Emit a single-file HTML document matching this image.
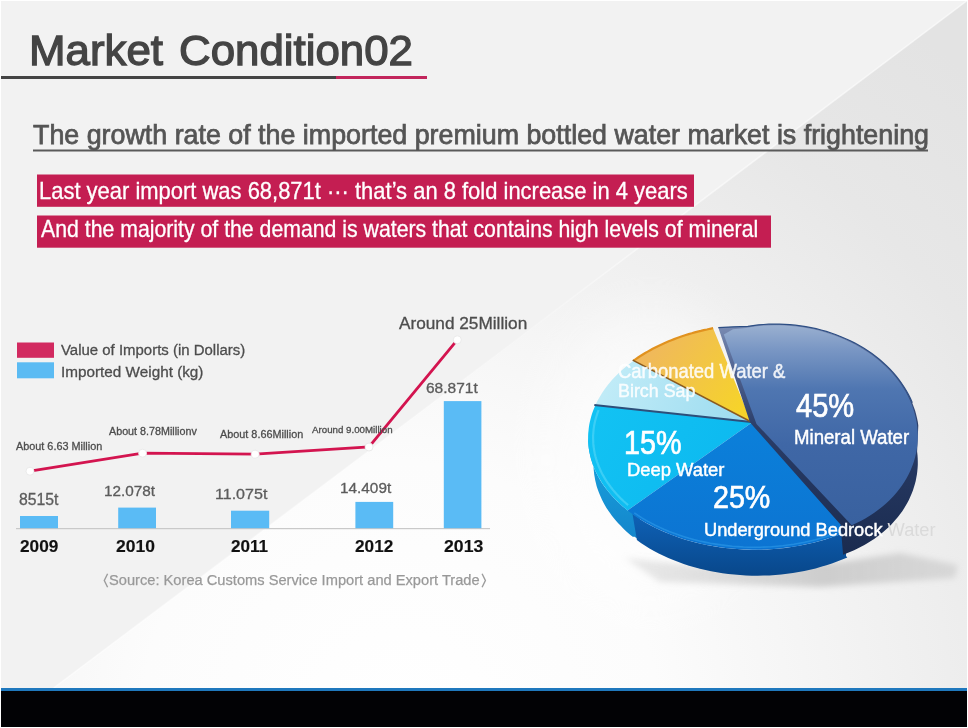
<!DOCTYPE html>
<html><head><meta charset="utf-8">
<style>
html,body{margin:0;padding:0;}
body{width:968px;height:728px;position:relative;overflow:hidden;background:#ffffff;font-family:"Liberation Sans",sans-serif;}
.abs{position:absolute;}
.t{position:absolute;white-space:nowrap;transform-origin:0 0;font-family:"Liberation Sans",sans-serif;}
</style></head>
<body>
<svg class="abs" style="left:0;top:0" width="968" height="728" viewBox="0 0 968 728">
  <defs>
    <radialGradient id="bgr" gradientUnits="userSpaceOnUse" cx="400" cy="720" r="860">
      <stop offset="0" stop-color="#ffffff"/>
      <stop offset="0.3" stop-color="#fcfcfc"/>
      <stop offset="0.45" stop-color="#f6f6f6"/>
      <stop offset="0.64" stop-color="#eeeeee"/>
      <stop offset="0.8" stop-color="#e7e7e7"/>
      <stop offset="1" stop-color="#e3e3e3"/>
    </radialGradient>
    <linearGradient id="diagL" gradientUnits="userSpaceOnUse" x1="966" y1="1" x2="54" y2="688">
      <stop offset="0" stop-color="#ffffff" stop-opacity="0.6"/>
      <stop offset="0.35" stop-color="#ffffff" stop-opacity="0.5"/>
      <stop offset="0.5" stop-color="#ffffff" stop-opacity="0.1"/>
      <stop offset="0.65" stop-color="#ffffff" stop-opacity="0.3"/>
      <stop offset="1" stop-color="#ffffff" stop-opacity="0.6"/>
    </linearGradient>
    <filter id="glow" x="-50%" y="-50%" width="200%" height="200%"><feGaussianBlur stdDeviation="25"/></filter>
  </defs>
  <rect x="1" y="1" width="966" height="688" fill="#f2f2f2"/>
  <!-- lower-right triangle: line x = 960 - 1.325*(y-5) -->
  <polygon points="966.6,1 967,1 967,688 53.7,688" fill="url(#bgr)"/>
  <line x1="966.6" y1="1" x2="53.7" y2="688" stroke="url(#diagL)" stroke-width="1.5"/>
  <ellipse cx="650" cy="460" rx="110" ry="150" fill="#ffffff" opacity="0.5" filter="url(#glow)"/>
  <!-- bottom bar -->
  <rect x="1" y="688" width="966" height="3" fill="#1f78bd"/>
  <rect x="1" y="691" width="966" height="36" fill="#020205"/>
  <!-- title underline -->
  <rect x="1" y="76" width="335" height="3" fill="#444444"/>
  <rect x="336" y="76" width="91" height="3" fill="#c2255c"/>
  <!-- subtitle underline -->
  <rect x="33" y="149.5" width="895" height="2" fill="#5a5a5a"/>
  <!-- pink bars -->
  <rect x="37" y="174.5" width="657" height="32.3" fill="#c41e52"/>
  <rect x="37" y="215.5" width="734" height="32.2" fill="#c41e52"/>
  <!-- legend -->
  <rect x="17" y="342.5" width="37" height="15.3" fill="#d22a60"/>
  <rect x="17" y="362.3" width="37" height="16" fill="#5bbbf3"/>
  <!-- axis -->
  <rect x="16" y="528" width="474" height="1.2" fill="#c9c9c9"/>
  <!-- bars -->
  <rect x="20" y="516" width="38" height="12.2" fill="#5abbf5"/>
  <rect x="118.2" y="507.6" width="37.8" height="20.6" fill="#5abbf5"/>
  <rect x="231" y="510.7" width="38.2" height="17.5" fill="#5abbf5"/>
  <rect x="355.4" y="501.9" width="37.8" height="26.3" fill="#5abbf5"/>
  <rect x="443.8" y="401.1" width="37.6" height="127.1" fill="#5abbf5"/>
  <!-- line -->
  <polyline points="30,471.2 142.6,453.2 255.2,454.2 369,447 457.3,339.8" fill="none" stroke="#d3144f" stroke-width="2.8"/>
  <g fill="#ffffff" stroke="#e6e6e6" stroke-width="0.8">
    <circle cx="30" cy="471.2" r="4"/>
    <circle cx="142.6" cy="453.2" r="4"/>
    <circle cx="255.2" cy="454.2" r="4"/>
    <circle cx="369" cy="447" r="4"/>
    <circle cx="457.3" cy="339.8" r="4"/>
  </g>
  <polyline points="107.6,573.8 104.3,580.5 107.6,587.2" fill="none" stroke="#9c9c9c" stroke-width="1.4"/>
  <polyline points="482.1,573.8 485.4,580.5 482.1,587.2" fill="none" stroke="#9c9c9c" stroke-width="1.4"/>
  <defs>
  <filter id="blur4" x="-20%" y="-100%" width="140%" height="300%"><feGaussianBlur stdDeviation="3"/></filter>
  <linearGradient id="gMin" gradientUnits="userSpaceOnUse" x1="0" y1="325" x2="0" y2="525">
    <stop offset="0" stop-color="#9ab0d0"/>
    <stop offset="0.12" stop-color="#7a97c4"/>
    <stop offset="0.32" stop-color="#4f76b1"/>
    <stop offset="0.6" stop-color="#3f67a6"/>
    <stop offset="1" stop-color="#39619f"/>
  </linearGradient>
  <linearGradient id="gMinSide" gradientUnits="userSpaceOnUse" x1="0" y1="325" x2="0" y2="555">
    <stop offset="0" stop-color="#7a8cb3"/>
    <stop offset="0.2" stop-color="#4f6290"/>
    <stop offset="0.45" stop-color="#2a3d68"/>
    <stop offset="1" stop-color="#1a2b4f"/>
  </linearGradient>
  <linearGradient id="gOr" gradientUnits="userSpaceOnUse" x1="640" y1="335" x2="740" y2="410">
    <stop offset="0" stop-color="#efb463"/>
    <stop offset="0.5" stop-color="#f2c447"/>
    <stop offset="1" stop-color="#f6d32a"/>
  </linearGradient>
  <linearGradient id="gCy" gradientUnits="userSpaceOnUse" x1="600" y1="360" x2="740" y2="420">
    <stop offset="0" stop-color="#c4edf8"/>
    <stop offset="1" stop-color="#9ddcf0"/>
  </linearGradient>
  <linearGradient id="gDeep" gradientUnits="userSpaceOnUse" x1="600" y1="410" x2="740" y2="500">
    <stop offset="0" stop-color="#12c2f3"/>
    <stop offset="1" stop-color="#0cb8ef"/>
  </linearGradient>
  <linearGradient id="gDeepSide" gradientUnits="userSpaceOnUse" x1="0" y1="440" x2="0" y2="540">
    <stop offset="0" stop-color="#19a6e0"/>
    <stop offset="1" stop-color="#1485cb"/>
  </linearGradient>
  <linearGradient id="gUnd" gradientUnits="userSpaceOnUse" x1="0" y1="425" x2="0" y2="550">
    <stop offset="0" stop-color="#0b80da"/>
    <stop offset="1" stop-color="#0c74d2"/>
  </linearGradient>
  <linearGradient id="gShad" gradientUnits="userSpaceOnUse" x1="620" y1="0" x2="960" y2="0">
    <stop offset="0" stop-color="#b0b0b0" stop-opacity="0.25"/>
    <stop offset="0.6" stop-color="#a8a8a8" stop-opacity="0.5"/>
    <stop offset="1" stop-color="#b0b0b0" stop-opacity="0.35"/>
  </linearGradient>
  <linearGradient id="gUndSide" gradientUnits="userSpaceOnUse" x1="0" y1="520" x2="0" y2="578">
    <stop offset="0" stop-color="#0e5fb2"/>
    <stop offset="1" stop-color="#084689"/>
  </linearGradient>
</defs>
<path d="M625,558 L700,566 L840,562 L900,553 L958,565 L955,578 L820,587 L660,582 Z" fill="url(#gShad)" filter="url(#blur4)"/>
<path d="M588.1,437.5 L588.1,440.3 L588.3,443.0 L588.5,445.7 L588.8,448.5 L589.2,451.2 L589.8,453.9 L590.4,456.7 L591.1,459.4 L592.0,462.1 L592.9,464.7 L593.9,467.4 L595.0,470.0 L596.2,472.7 L597.5,475.3 L598.9,477.8 L600.4,480.4 L602.0,482.9 L603.7,485.4 L605.5,487.9 L607.4,490.3 L609.3,492.7 L611.3,495.1 L613.5,497.4 L615.7,499.7 L618.0,502.0 L620.4,504.2 L622.8,506.4 L625.4,508.6 L628.0,510.7 L640.0,512.0 L640.0,540.0 L634.0,536.6 L633.1,537.1 L630.4,534.9 L627.8,532.7 L625.3,530.4 L622.8,528.0 L620.5,525.6 L618.2,523.2 L616.0,520.7 L613.9,518.2 L611.9,515.7 L610.0,513.1 L608.2,510.5 L606.5,507.9 L604.9,505.2 L603.4,502.5 L602.0,499.8 L600.8,497.1 L599.6,494.3 L598.5,491.5 L597.5,488.7 L596.6,485.9 L595.9,483.0 L595.2,480.2 L594.7,477.3 L594.2,474.4 L593.9,471.6 L593.6,468.7 L593.5,465.8 L593.5,462.9 L593.6,460.0 Z" fill="url(#gDeepSide)"/>
<path d="M632.5,514.1 L636.6,517.0 L640.9,519.7 L645.4,522.4 L650.0,525.0 L654.7,527.5 L659.5,529.8 L664.5,532.0 L669.6,534.1 L674.8,536.1 L680.1,538.0 L685.5,539.7 L691.0,541.3 L696.6,542.7 L702.2,544.1 L708.0,545.2 L713.7,546.3 L719.6,547.2 L725.5,548.0 L731.4,548.6 L737.4,549.1 L743.3,549.5 L749.3,549.7 L755.4,549.7 L761.4,549.6 L767.4,549.4 L773.4,549.0 L779.3,548.5 L785.3,547.9 L791.2,547.1 L797.0,546.1 L802.8,545.0 L808.6,543.8 L814.3,542.5 L819.9,541.0 L825.4,539.4 L830.9,537.6 L836.2,535.8 L841.5,533.8 L846.6,531.6 L846.0,556.0 L847.3,557.4 L842.3,559.5 L837.1,561.5 L831.9,563.4 L826.5,565.2 L821.1,566.8 L815.6,568.4 L810.0,569.7 L804.4,571.0 L798.7,572.0 L792.9,573.0 L787.1,573.8 L781.3,574.5 L775.4,575.0 L769.5,575.4 L763.6,575.6 L757.7,575.7 L751.8,575.7 L745.9,575.5 L740.0,575.1 L734.1,574.6 L728.3,574.0 L722.5,573.2 L716.8,572.3 L711.1,571.3 L705.5,570.1 L699.9,568.8 L694.4,567.3 L689.0,565.7 L683.7,564.0 L678.5,562.1 L673.3,560.1 L668.3,558.0 L663.5,555.8 L658.7,553.4 L654.0,550.9 L649.5,548.4 L645.2,545.7 L640.9,542.9 L636.9,540.0 Z" fill="url(#gUndSide)"/>
<path d="M751.3,422.0 L595.4,405.2 L594.2,408.0 L593.1,410.8 L592.1,413.6 L591.2,416.4 L590.5,419.2 L589.8,422.1 L589.2,424.9 L588.8,427.8 L588.5,430.7 L588.2,433.6 L588.1,436.4 L588.1,439.3 L588.2,442.2 L588.4,445.0 L588.7,447.9 L589.2,450.8 L589.7,453.6 L590.4,456.5 L591.1,459.3 L592.0,462.1 L592.9,464.9 L594.0,467.7 L595.2,470.4 L596.5,473.2 L597.9,475.9 L599.4,478.6 L601.0,481.2 L602.7,483.9 L604.5,486.5 L606.4,489.0 L608.3,491.6 L610.4,494.1 L612.6,496.5 L614.9,498.9 L617.3,501.3 L619.7,503.7 L622.3,506.0 L624.9,508.2 L627.6,510.4 L750.2,423.7 L757.0,423.0 Z" fill="url(#gDeep)"/>
<path d="M598.6,410.1 L597.6,412.6 L596.8,415.1 L596.0,417.7 L595.3,420.2 L594.7,422.8 L594.2,425.3 L593.8,427.9 L593.5,430.5 L593.3,433.1 L593.1,435.7 L593.1,438.2 L593.2,440.8 L593.3,443.4 L593.5,446.0 L593.9,448.6 L594.3,451.1 L594.8,453.7 L595.4,456.2 L596.1,458.8 L596.9,461.3 L597.8,463.8 L598.7,466.3 L599.8,468.8 L600.9,471.2 L602.1,473.7 L603.5,476.1 L604.9,478.5 L606.3,480.9 L607.9,483.2 L609.6,485.5 L611.3,487.8 L613.1,490.1 L615.0,492.3 L617.0,494.6 L619.1,496.7 L621.2,498.9 L623.4,501.0 L625.7,503.0 L628.1,505.1" fill="none" stroke="#5cd8f8" stroke-width="2.2" opacity="0.55"/>
<path d="M757.0,423.0 L750.2,423.7 L627.6,510.4 L631.7,513.5 L636.0,516.5 L640.4,519.4 L644.9,522.2 L649.7,524.8 L654.5,527.4 L659.5,529.8 L664.7,532.1 L669.9,534.2 L675.3,536.3 L680.8,538.2 L686.4,539.9 L692.0,541.6 L697.8,543.0 L703.7,544.4 L709.6,545.6 L715.6,546.6 L721.6,547.5 L727.7,548.2 L733.8,548.8 L740.0,549.3 L746.2,549.6 L752.3,549.7 L758.5,549.7 L764.7,549.5 L770.9,549.2 L777.1,548.7 L783.2,548.1 L789.3,547.3 L795.4,546.4 L801.4,545.3 L807.3,544.1 L813.2,542.7 L819.0,541.2 L824.7,539.6 L830.4,537.8 L835.9,535.9 L841.3,533.8 L846.6,531.6 L850.0,520.0 L800.0,455.0 Z" fill="url(#gUnd)"/>
<path d="M634.3,512.8 L638.2,515.5 L642.3,518.1 L646.5,520.6 L650.8,522.9 L655.2,525.2 L659.8,527.4 L664.4,529.5 L669.2,531.5 L674.1,533.3 L679.0,535.1 L684.0,536.7 L689.2,538.3 L694.4,539.7 L699.6,541.0 L704.9,542.1 L710.3,543.2 L715.8,544.1 L721.2,544.9 L726.8,545.6 L732.3,546.2 L737.9,546.6 L743.5,547.0 L749.1,547.2 L754.7,547.2 L760.4,547.2 L766.0,547.0 L771.6,546.7 L777.2,546.2 L782.8,545.7 L788.3,545.0 L793.8,544.2 L799.3,543.2 L804.7,542.2 L810.1,541.0 L815.4,539.7 L820.6,538.3 L825.8,536.8 L830.9,535.1 L835.9,533.4" fill="none" stroke="#2a95e6" stroke-width="1.6" opacity="0.7"/>
<path d="M751.3,422.0 L633.6,360.7 L630.9,362.7 L628.2,364.8 L625.6,366.9 L623.1,369.0 L620.7,371.2 L618.3,373.4 L616.0,375.7 L613.8,378.0 L611.7,380.3 L609.7,382.7 L607.8,385.1 L605.9,387.5 L604.1,390.0 L602.4,392.4 L600.9,395.0 L599.4,397.5 L597.9,400.0 L596.6,402.6 L595.4,405.2 Z" fill="url(#gCy)"/>
<path d="M751.3,422.0 L713.1,328.2 L710.0,328.8 L706.9,329.5 L703.8,330.1 L700.8,330.9 L697.7,331.6 L694.7,332.4 L691.7,333.3 L688.7,334.1 L685.8,335.0 L682.8,336.0 L679.9,337.0 L677.1,338.0 L674.2,339.1 L671.4,340.2 L668.7,341.3 L665.9,342.5 L663.2,343.7 L660.5,344.9 L657.9,346.2 L655.3,347.5 L652.7,348.8 L650.2,350.2 L647.7,351.6 L645.2,353.0 L642.8,354.5 L640.4,356.0 L638.1,357.5 L635.8,359.1 L633.6,360.7 Z" fill="url(#gOr)"/>
<path d="M713.1,328.2 L710.0,328.8 L706.9,329.5 L703.8,330.1 L700.8,330.9 L697.7,331.6 L694.7,332.4 L691.7,333.3 L688.7,334.1 L685.8,335.0 L682.8,336.0 L679.9,337.0 L677.1,338.0 L674.2,339.1 L671.4,340.2 L668.7,341.3 L665.9,342.5 L663.2,343.7 L660.5,344.9 L657.9,346.2 L655.3,347.5 L652.7,348.8 L650.2,350.2 L647.7,351.6 L645.2,353.0 L642.8,354.5 L640.4,356.0 L638.1,357.5 L635.8,359.1 L633.6,360.7" fill="none" stroke="#e1921f" stroke-width="2.2"/>
<path d="M594.3,405.0 L751.3,422.0" stroke="#2d4f7a" stroke-width="2"/>
<path d="M632.7,360.1 L751.3,422.0" stroke="#8a5a20" stroke-width="1.6"/>
<path d="M750.0,422.5 L718.3,327.6 L733.0,326.8 L747.9,326.3 L752.6,325.6 L757.4,325.0 L762.1,324.6 L766.9,324.3 L771.7,324.1 L776.5,324.1 L781.3,324.1 L786.1,324.4 L790.9,324.7 L795.7,325.2 L800.5,325.8 L805.3,326.5 L810.0,327.4 L814.7,328.4 L819.4,329.5 L824.0,330.8 L828.5,332.2 L833.0,333.7 L837.5,335.3 L841.8,337.0 L846.1,338.9 L850.4,340.8 L854.5,342.9 L858.5,345.1 L862.5,347.4 L866.3,349.8 L870.1,352.3 L873.7,354.9 L877.2,357.6 L880.6,360.4 L883.9,363.3 L887.0,366.2 L890.1,369.3 L893.0,372.4 L895.7,375.6 L898.3,378.8 L900.8,382.1 L903.1,385.5 L905.3,389.0 L907.3,392.5 L909.2,396.0 L910.9,399.6 L912.4,403.2 L913.8,406.9 L915.1,410.6 L916.1,414.3 L917.0,418.0 L917.8,421.8 L918.3,425.5 L917.1,451.6 L917.5,454.9 L917.7,458.1 L917.8,461.4 L917.8,464.7 L917.6,468.0 L917.3,471.2 L916.9,474.5 L916.3,477.7 L915.7,480.9 L914.9,484.1 L913.9,487.3 L912.9,490.4 L911.7,493.6 L910.4,496.6 L909.0,499.7 L907.4,502.7 L905.8,505.6 L904.0,508.5 L902.1,511.4 L900.0,514.2 L897.9,516.9 L895.7,519.6 L893.3,522.3 L890.9,524.9 L888.3,527.4 L885.7,529.8 L882.9,532.2 L880.0,534.5 L877.1,536.8 L874.1,538.9 L870.9,541.0 L867.7,543.0 L864.4,544.9 L861.0,546.8 L857.6,548.5 L854.1,550.2 L850.5,551.8 L846.8,553.3 L843.1,554.7 L840.5,524.6 Z" fill="url(#gMinSide)"/>
<path d="M756.5,424.0 L723.8,334.5 L733.0,329.2 L746.0,327.9 L751.4,327.0 L757.0,326.3 L762.6,325.8 L768.2,325.4 L773.8,325.3 L779.5,325.3 L785.1,325.5 L790.8,325.9 L796.4,326.5 L802.0,327.2 L807.6,328.2 L813.1,329.3 L818.6,330.6 L824.0,332.0 L829.3,333.7 L834.6,335.5 L839.8,337.5 L844.8,339.6 L849.8,341.9 L854.6,344.3 L859.3,346.9 L863.9,349.7 L868.3,352.6 L872.6,355.6 L876.7,358.8 L880.7,362.0 L884.5,365.4 L888.1,369.0 L891.6,372.6 L894.8,376.3 L897.8,380.1 L900.7,384.1 L903.3,388.1 L905.8,392.1 L908.0,396.3 L910.0,400.5 L911.8,404.7 L913.3,409.0 L914.6,413.4 L915.7,417.7 L916.6,422.1 L917.2,426.5 L917.6,431.0 L917.8,435.4 L917.7,439.8 L917.4,444.2 L916.9,448.6 L916.1,452.9 L915.1,457.2 L913.9,461.5 L912.4,465.7 L910.7,469.9 L908.8,474.0 L906.7,478.0 L904.3,482.0 L901.8,485.8 L899.0,489.6 L896.0,493.2 L892.9,496.8 L889.5,500.2 L886.0,503.6 L882.2,506.8 L878.3,509.8 L874.3,512.8 L870.1,515.6 L865.7,518.2 L861.2,520.7 L856.5,523.1 L851.7,525.3 L790.3,460.0 Z" fill="url(#gMin)"/>
<path d="M718.3,327.6 L733.0,326.8 L747.9,326.3 L753.1,325.6 L758.3,324.9 L763.5,324.5 L768.8,324.2 L774.1,324.1 L779.4,324.1 L784.7,324.3 L790.0,324.6 L795.3,325.1 L800.5,325.8 L805.8,326.6 L811.0,327.6 L816.1,328.7 L821.2,330.0 L826.3,331.4 L831.2,333.0 L836.1,334.8 L841.0,336.7 L845.7,338.7 L850.3,340.8 L854.9,343.1 L859.3,345.6 L863.6,348.1 L867.8,350.8 L871.9,353.6 L875.8,356.5 L879.6,359.5 L883.2,362.7 L886.7,365.9 L890.0,369.2 L893.2,372.7 L896.2,376.2 L899.1,379.8 L901.7,383.5 L904.2,387.2 L906.5,391.0 L908.6,394.9 L910.6,398.8 L912.3,402.8" fill="none" stroke="#2d4e84" stroke-width="1.2"/>
</svg>
<div class="t" id="title1" style="left:28.79px;top:29.04px;font-size:42.90px;line-height:42.90px;font-weight:400;color:#444444;transform:scaleX(1.0222);-webkit-text-stroke:1.3px #444;">Market</div>
<div class="t" id="title2" style="left:178.61px;top:29.04px;font-size:42.90px;line-height:42.90px;font-weight:400;color:#444444;transform:scaleX(1.0221);-webkit-text-stroke:1.3px #444;">Condition02</div>
<div class="t" id="sub" style="left:32.66px;top:120.94px;font-size:27.25px;line-height:27.25px;font-weight:400;color:#555555;transform:scaleX(0.9843);-webkit-text-stroke:0.75px #555;">The growth rate of the imported premium bottled water market is frightening</div>
<div class="t" id="b1" style="left:38.84px;top:180.49px;font-size:23.19px;line-height:23.19px;font-weight:400;color:#ffffff;transform:scaleX(0.9468);-webkit-text-stroke:0.3px #fff;">Last year import was 68,871t ··· that’s an 8 fold increase in 4 years</div>
<div class="t" id="b2" style="left:40.60px;top:218.49px;font-size:23.19px;line-height:23.19px;font-weight:400;color:#ffffff;transform:scaleX(0.9167);-webkit-text-stroke:0.3px #fff;">And the majority of the demand is waters that contains high levels of mineral</div>
<div class="t" id="lg1" style="left:60.80px;top:342.34px;font-size:15.36px;line-height:15.36px;font-weight:400;color:#4d4d4d;transform:scaleX(0.9738);-webkit-text-stroke:0.3px #4d4d4d;">Value of Imports (in Dollars)</div>
<div class="t" id="lg2" style="left:60.52px;top:363.54px;font-size:15.36px;line-height:15.36px;font-weight:400;color:#4d4d4d;transform:scaleX(0.9954);-webkit-text-stroke:0.3px #4d4d4d;">Imported Weight (kg)</div>
<div class="t" id="l1" style="left:15.50px;top:440.98px;font-size:10.72px;line-height:10.72px;font-weight:400;color:#4d4d4d;transform:scaleX(1.0124);-webkit-text-stroke:0.3px #4d4d4d;">About 6.63 Million</div>
<div class="t" id="l2" style="left:108.50px;top:425.88px;font-size:10.72px;line-height:10.72px;font-weight:400;color:#4d4d4d;transform:scaleX(1.0019);-webkit-text-stroke:0.3px #4d4d4d;">About 8.78Millionv</div>
<div class="t" id="l3" style="left:219.60px;top:428.74px;font-size:11.01px;line-height:11.01px;font-weight:400;color:#4d4d4d;transform:scaleX(0.9860);-webkit-text-stroke:0.3px #4d4d4d;">About 8.66Million</div>
<div class="t" id="l4" style="left:311.60px;top:424.82px;font-size:9.86px;line-height:9.86px;font-weight:400;color:#4d4d4d;transform:scaleX(0.9880);-webkit-text-stroke:0.3px #4d4d4d;">Around 9.00Million</div>
<div class="t" id="l5" style="left:398.50px;top:315.75px;font-size:15.94px;line-height:15.94px;font-weight:400;color:#4d4d4d;transform:scaleX(1.0802);-webkit-text-stroke:0.3px #4d4d4d;">Around 25Million</div>
<div class="t" id="v1" style="left:19.37px;top:492.05px;font-size:15.94px;line-height:15.94px;font-weight:400;color:#5c5c5c;transform:scaleX(0.9901);-webkit-text-stroke:0.3px #5c5c5c;">8515t</div>
<div class="t" id="v2" style="left:103.93px;top:484.01px;font-size:14.93px;line-height:14.93px;font-weight:400;color:#5c5c5c;transform:scaleX(1.0248);-webkit-text-stroke:0.3px #5c5c5c;">12.078t</div>
<div class="t" id="v3" style="left:215.38px;top:485.99px;font-size:15.07px;line-height:15.07px;font-weight:400;color:#5c5c5c;transform:scaleX(1.0655);-webkit-text-stroke:0.3px #5c5c5c;">11.075t</div>
<div class="t" id="v4" style="left:340.42px;top:479.79px;font-size:15.07px;line-height:15.07px;font-weight:400;color:#5c5c5c;transform:scaleX(1.0190);-webkit-text-stroke:0.3px #5c5c5c;">14.409t</div>
<div class="t" id="v5" style="left:426.42px;top:381.13px;font-size:14.20px;line-height:14.20px;font-weight:400;color:#5c5c5c;transform:scaleX(1.0919);-webkit-text-stroke:0.3px #5c5c5c;">68.871t</div>
<div class="t" id="y1" style="left:20.18px;top:538.46px;font-size:17.10px;line-height:17.10px;font-weight:700;color:#111111;transform:scaleX(1.0078);-webkit-text-stroke:0.15px #111;">2009</div>
<div class="t" id="y2" style="left:116.17px;top:538.46px;font-size:17.10px;line-height:17.10px;font-weight:700;color:#111111;transform:scaleX(1.0240);-webkit-text-stroke:0.15px #111;">2010</div>
<div class="t" id="y3" style="left:231.49px;top:538.46px;font-size:17.10px;line-height:17.10px;font-weight:700;color:#111111;transform:scaleX(1.0017);-webkit-text-stroke:0.15px #111;">2011</div>
<div class="t" id="y4" style="left:355.48px;top:538.46px;font-size:17.10px;line-height:17.10px;font-weight:700;color:#111111;transform:scaleX(1.0078);-webkit-text-stroke:0.15px #111;">2012</div>
<div class="t" id="y5" style="left:443.97px;top:538.46px;font-size:17.10px;line-height:17.10px;font-weight:700;color:#111111;transform:scaleX(1.0322);-webkit-text-stroke:0.15px #111;">2013</div>
<div class="t" id="src" style="left:109.41px;top:572.47px;font-size:15.22px;line-height:15.22px;font-weight:400;color:#999999;transform:scaleX(0.9631);-webkit-text-stroke:0.25px #999;">Source: Korea Customs Service Import and Export Trade</div>
<div class="t" id="p45" style="left:795.62px;top:388.67px;font-size:33.33px;line-height:33.33px;font-weight:400;color:#ffffff;transform:scaleX(0.8728);-webkit-text-stroke:0.7px #fff;">45%</div>
<div class="t" id="pmin" style="left:794.31px;top:426.51px;font-size:20.58px;line-height:20.58px;font-weight:400;color:#ffffff;transform:scaleX(0.9043);-webkit-text-stroke:0.45px #fff;">Mineral Water</div>
<div class="t" id="p15" style="left:624.49px;top:426.64px;font-size:32.90px;line-height:32.90px;font-weight:400;color:#ffffff;transform:scaleX(0.8740);-webkit-text-stroke:0.7px #fff;">15%</div>
<div class="t" id="pdeep" style="left:626.73px;top:460.88px;font-size:18.26px;line-height:18.26px;font-weight:400;color:#ffffff;transform:scaleX(1.0078);-webkit-text-stroke:0.45px #fff;">Deep Water</div>
<div class="t" id="p25" style="left:713.47px;top:482.10px;font-size:31.88px;line-height:31.88px;font-weight:400;color:#ffffff;transform:scaleX(0.8990);-webkit-text-stroke:0.7px #fff;">25%</div>
<div class="t" id="pund" style="left:704.32px;top:520.68px;font-size:18.26px;line-height:18.26px;font-weight:400;color:#ffffff;transform:scaleX(0.9998);-webkit-text-stroke:0.45px #fff;">Underground Bedrock <span style="color:#dadada;-webkit-text-stroke:0">Water</span></div>
<div class="t" id="pcarb" style="left:618.38px;top:361.69px;font-size:19.42px;line-height:19.42px;font-weight:400;color:#ffffff;transform:scaleX(0.9503);-webkit-text-stroke:0.45px #fff;opacity:0.9;">Carbonated Water &amp;</div>
<div class="t" id="pbir" style="left:617.87px;top:381.79px;font-size:18.84px;line-height:18.84px;font-weight:400;color:#ffffff;transform:scaleX(0.9485);-webkit-text-stroke:0.45px #fff;opacity:0.9;">Birch Sap</div>
</body></html>
